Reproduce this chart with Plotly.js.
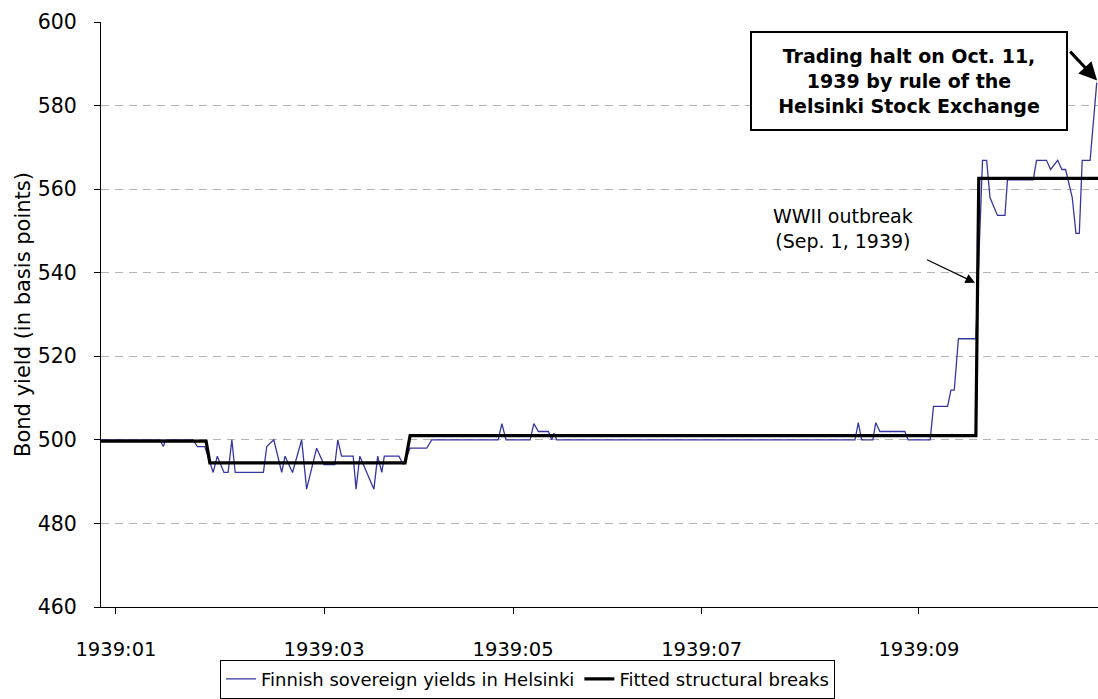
<!DOCTYPE html>
<html>
<head>
<meta charset="utf-8">
<script src="https://cdn.plot.ly/plotly-3.0.1.min.js"></script>
<style>
  html, body { margin: 0; padding: 0; background: #ffffff; }
  #chart { width: 1098px; height: 699px; }
</style>
</head>
<body>
<div id="chart"></div>
<script>
// Observation position (trading-day count from 1939:01) and Finnish sovereign yield (basis points)
const yieldObs = [0.0, 14.2, 15.0, 15.6, 22.2, 23.2, 25.0, 27.0, 28.0, 29.6, 30.6, 31.5, 32.3, 39.1, 39.9, 41.6,
  43.5, 44.3, 46.1, 48.3, 49.5, 51.9, 53.7, 56.3, 57.0, 57.9, 60.7, 61.4, 62.3, 65.7, 66.6, 67.6, 68.2, 71.7,
  72.8, 74.4, 78.4, 79.6, 95.6, 96.5, 97.5, 103.3, 104.2, 105.3, 107.7, 108.5, 109.0, 109.7, 181.5, 182.3,
  183.1, 185.8, 186.5, 187.5, 193.5, 194.3, 199.6, 200.4, 203.8, 204.6, 205.4, 206.4, 210.6, 212.2, 213.2,
  214.0, 215.8, 217.6, 218.2, 224.4, 225.2, 227.6, 228.6, 230.3, 231.3, 232.2, 233.8, 234.7, 235.5, 236.2,
  238.1, 239.7];
const yieldValues = [500.0, 500.0, 498.4, 500.0, 500.0, 498.4, 498.4, 492.2, 496.1, 492.2, 492.2, 500.0, 492.2,
  492.2, 498.4, 500.0, 492.2, 496.1, 492.2, 500.0, 488.2, 498.0, 494.1, 494.1, 500.0, 496.1, 496.1, 488.2,
  496.1, 488.2, 496.1, 492.2, 496.1, 496.1, 494.1, 498.0, 498.0, 500.0, 500.0, 503.9, 500.0, 500.0, 503.9,
  502.0, 502.0, 500.0, 501.6, 500.0, 500.0, 504.1, 500.0, 500.0, 504.1, 502.0, 502.0, 500.0, 500.0, 508.0,
  508.0, 511.9, 511.9, 524.2, 524.2, 566.9, 566.9, 558.0, 553.7, 553.7, 562.2, 562.2, 566.9, 566.9, 564.7,
  566.9, 564.7, 564.7, 558.0, 549.4, 549.4, 566.9, 566.9, 585.5];

// Fitted structural breaks (regime means)
const breakObs = [0.0, 25.3, 26.2, 73.2, 74.4, 210.6, 211.3, 240.0];
const breakLevels = [499.7, 499.7, 494.5, 494.5, 501.0, 501.0, 562.6, 562.6];

// Axis ticks
const tickPositions = [3.6, 53.7, 99.2, 144.6, 196.9];
const tickLabels = ['1939:01', '1939:03', '1939:05', '1939:07', '1939:09'];
const yTicks = [460, 480, 500, 520, 540, 560, 580, 600];

// Annotation anchors
const wwiiPoint = [210.4, 537.6];
const haltPoint = [239.8, 586.0];
const haltBox = [194.5, 585.8];

const FONT = 'DejaVu Sans, Verdana, sans-serif';

const traces = [
  {
    x: yieldObs, y: yieldValues, type: 'scatter', mode: 'lines',
    name: 'Finnish sovereign yields in Helsinki',
    line: { color: '#3636a3', width: 1.3 }
  },
  {
    x: breakObs, y: breakLevels, type: 'scatter', mode: 'lines',
    name: 'Fitted structural breaks',
    line: { color: '#000000', width: 3.2 }
  }
];

const layout = {
  width: 1098, height: 699,
  margin: { l: 101, r: 0, t: 22, b: 82, pad: 0 },
  paper_bgcolor: '#ffffff', plot_bgcolor: '#ffffff',
  font: { family: FONT, size: 18, color: '#000000' },
  showlegend: true,
  legend: {
    orientation: 'h', x: 0.1194, xanchor: 'left', y: -0.09, yanchor: 'top',
    bordercolor: '#000000', borderwidth: 1, bgcolor: '#ffffff',
    font: { family: FONT, size: 18, color: '#000000' },
    itemwidth: 30, tracegroupgap: 0, traceorder: 'normal'
  },
  xaxis: {
    range: [0, 240], showgrid: false, zeroline: false,
    showline: true, linecolor: '#000000', linewidth: 1,
    ticks: 'outside', ticklen: 6, tickcolor: '#000000', tickwidth: 1,
    tickmode: 'array', tickvals: tickPositions, ticktext: tickLabels,
    tickfont: { family: FONT, size: 19.5, color: '#000000' },
    ticklabelstandoff: 19
  },
  yaxis: {
    range: [460, 600], zeroline: false,
    showline: true, linecolor: '#000000', linewidth: 1,
    ticks: 'outside', ticklen: 6, tickcolor: '#000000', tickwidth: 1,
    tickmode: 'array', tickvals: yTicks,
    showgrid: true, gridcolor: '#b3b3b3', gridwidth: 1, griddash: '8px,6px',
    tickfont: { family: FONT, size: 20.5, color: '#000000' },
    ticklabelstandoff: 13,
    title: { text: 'Bond yield (in basis points)', font: { family: FONT, size: 21, color: '#000000' }, standoff: 1 }
  },
  annotations: [
    {
      xref: 'x', yref: 'y', x: wwiiPoint[0], y: wwiiPoint[1],
      axref: 'pixel', ayref: 'pixel', ax: -50, ay: -24,
      text: ' ', showarrow: true, arrowhead: 2, arrowsize: 1.6, arrowwidth: 1.2, arrowcolor: '#000000',
      font: { size: 2 }
    },
    {
      xref: 'x', yref: 'y', x: wwiiPoint[0], y: wwiiPoint[1],
      xshift: -132, yshift: 54,
      text: 'WWII outbreak<br>(Sep. 1, 1939)', showarrow: false,
      font: { family: FONT, size: 19, color: '#000000' }, align: 'center'
    },
    {
      xref: 'x', yref: 'y', x: haltPoint[0], y: haltPoint[1],
      axref: 'pixel', ayref: 'pixel', ax: -29, ay: -31,
      text: ' ', showarrow: true, arrowhead: 2, arrowsize: 1.2, arrowwidth: 3, arrowcolor: '#000000',
      font: { size: 2 }
    },
    {
      xref: 'x', yref: 'y', x: haltBox[0], y: haltBox[1],
      text: '<b>Trading halt on Oct. 11,<br>1939 by rule of the<br>Helsinki Stock Exchange</b>',
      showarrow: false, align: 'center',
      width: 312, height: 94, borderpad: 1,
      bordercolor: '#000000', borderwidth: 2, bgcolor: '#ffffff',
      font: { family: FONT, size: 19, color: '#000000' }
    }
  ]
};

Plotly.newPlot('chart', traces, layout, { staticPlot: true, displayModeBar: false });
</script>
</body>
</html>
